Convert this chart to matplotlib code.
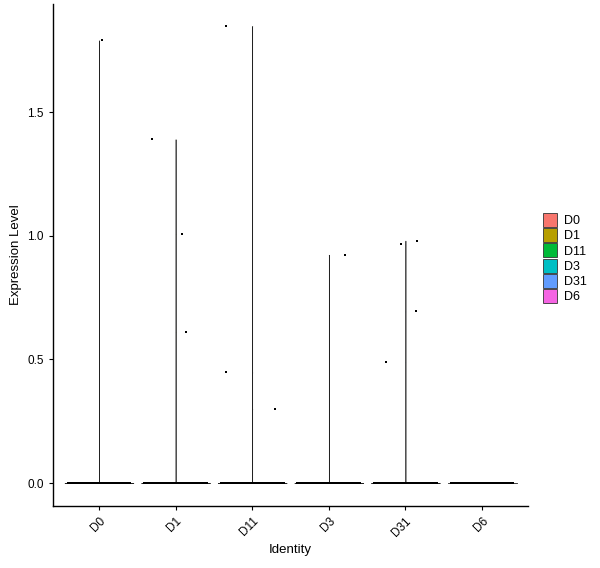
import numpy as np
import matplotlib
matplotlib.use("Agg")
import matplotlib.pyplot as plt
from matplotlib.patches import Patch

plt.rcParams["font.family"] = ["Liberation Sans", "DejaVu Sans"]

# groups and their colours (ggplot hue palette)
groups = ["D0", "D1", "D11", "D3", "D31", "D6"]
colors = ["#F8766D", "#B79F00", "#00BA38", "#00BFC4", "#619CFF", "#F564E3"]

# non-zero expression values per group, with their jitter offsets
nonzero_vals = {
    "D0": [1.79],
    "D1": [1.39, 1.007, 0.611],
    "D11": [1.848, 0.447, 0.299],
    "D3": [0.923],
    "D31": [0.98, 0.965, 0.694, 0.49],
    "D6": [],
}
nonzero_jit = {
    "D0": [0.035],
    "D1": [-0.31, 0.09, 0.135],
    "D11": [-0.34, -0.34, 0.30],
    "D3": [0.21],
    "D31": [0.15, -0.06, 0.14, -0.25],
    "D6": [],
}
# cells with zero expression in each group
n_zero = [400, 400, 400, 400, 400, 400]

yticks = [0.0, 0.5, 1.0, 1.5]

fig = plt.figure(figsize=(6, 5.68), dpi=100)
ax = fig.add_axes([53 / 600, 1 - 506 / 568, 475 / 600, 502 / 568])

bw = 0.0012
for i, g in enumerate(groups):
    c = i + 1
    vals = np.array([0.0] * n_zero[i] + nonzero_vals[g])
    vmax = vals.max()
    if vmax > 0:
        y = np.linspace(0, vmax, 6000)
        d = np.exp(-(y[:, None] - vals[None, :]) ** 2 / (2 * bw ** 2)).sum(axis=1)
        w = 0.45 * d / d.max()
        ax.fill_betweenx(y, c - w, c + w, facecolor=colors[i],
                         edgecolor="#222222", linewidth=0.45, zorder=2)
    else:
        ax.plot([c - 0.45, c + 0.45], [0, 0], color="#222222", lw=0.6, zorder=2)
    # jittered zero cells
    xs = c + np.linspace(-0.41, 0.41, n_zero[i])
    ax.scatter(xs, np.zeros(n_zero[i]), s=3, marker="s", color="black",
               linewidths=0, zorder=3)
    if nonzero_vals[g]:
        ax.scatter(c + np.array(nonzero_jit[g]), nonzero_vals[g], s=3,
                   marker="s", color="black", linewidths=0, zorder=3)

ax.set_xlim(0.4, 6.6)
ax.set_ylim(-0.093, 1.937)
ax.set_xticks(range(1, 7))
ax.set_xticklabels(groups, rotation=45, ha="right", va="top",
                   rotation_mode="anchor", fontsize=8.5)
ax.set_yticks(yticks)
ax.set_yticklabels(["%.1f" % t for t in yticks], fontsize=8.5)
ax.tick_params(length=3, width=0.8, color="black", labelcolor="black")
for s in ["top", "right"]:
    ax.spines[s].set_visible(False)
for s in ["left", "bottom"]:
    ax.spines[s].set_linewidth(1.0)
ax.set_xlabel("Identity", fontsize=9.5)
ax.set_ylabel("Expression Level", fontsize=9.5)

handles = [Patch(facecolor=col, edgecolor="#333333", linewidth=0.6, label=g)
           for g, col in zip(groups, colors)]
ax.legend(handles=handles, loc="center left", bbox_to_anchor=(1.02, 0.494),
          frameon=False, fontsize=9, handlelength=1.15, handleheight=1.35,
          labelspacing=0.08, handletextpad=0.55, borderaxespad=0)

fig.savefig("out.png", dpi=100)
